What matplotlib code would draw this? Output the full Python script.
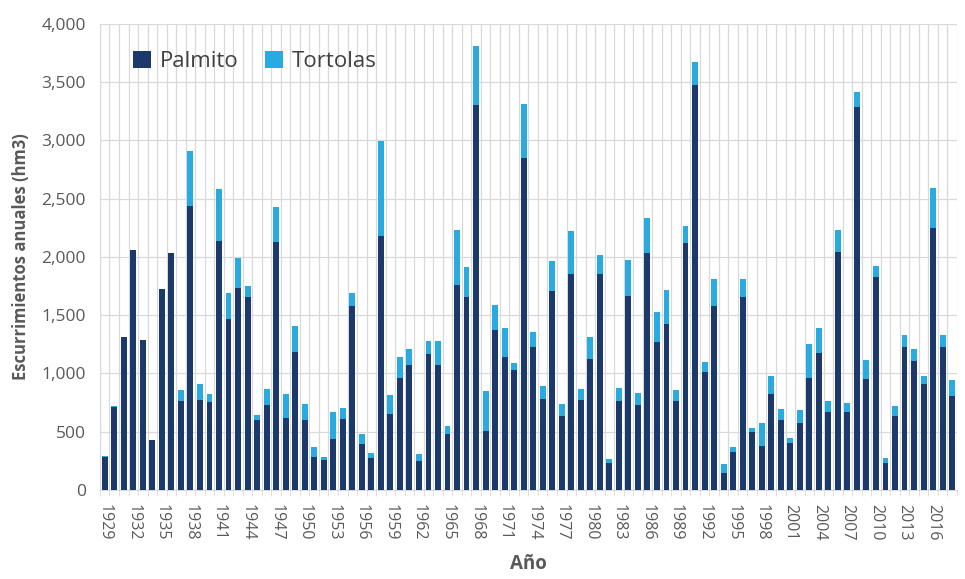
import numpy as np
import matplotlib
matplotlib.use("Agg")
import matplotlib.pyplot as plt
from matplotlib.ticker import FuncFormatter, FixedLocator

plt.rcParams['font.family'] = ['Open Sans', 'DejaVu Sans']

years = list(range(1929, 2019))

# annual runoff per station (hm3)
palmito = [
    285, 715, 1313, 2056, 1286, 426, 1721, 2032, 764, 2439,
    773, 755, 2137, 1464, 1736, 1654, 598, 728, 2131, 622,
    1186, 601, 287, 260, 438, 613, 1582, 398, 272, 2177,
    652, 957, 1075, 251, 1171, 1075, 480, 1760, 1657, 3306,
    507, 1374, 1141, 1029, 2850, 1229, 785, 1709, 631, 1857,
    773, 1126, 1857, 229, 767, 1663, 728, 2035, 1268, 1428,
    767, 2119, 3478, 1017, 1576, 145, 326, 1657, 498, 377,
    824, 598, 405, 577, 963, 1177, 673, 2044, 670, 3291,
    954, 1832, 232, 631, 1229, 1111, 909, 2252, 1229, 803,
]
total = [
    290, 720, 1313, 2056, 1286, 426, 1721, 2032, 854, 2913,
    906, 821, 2584, 1688, 1992, 1754, 640, 863, 2430, 821,
    1404, 734, 371, 287, 673, 703, 1691, 483, 314, 2992,
    818, 1141, 1208, 305, 1283, 1283, 552, 2234, 1911, 3807,
    848, 1585, 1389, 1087, 3315, 1358, 894, 1968, 740, 2222,
    863, 1310, 2014, 269, 875, 1977, 833, 2337, 1528, 1715,
    854, 2267, 3674, 1102, 1814, 220, 371, 1814, 534, 574,
    978, 694, 450, 685, 1256, 1389, 761, 2234, 743, 3417,
    1120, 1920, 275, 725, 1331, 1208, 981, 2593, 1331, 942,
]
tortolas = [t - p for t, p in zip(total, palmito)]

c_palmito = '#1B3A6B'
c_tortolas = '#29ABE2'
grid_c = '#D9D9D9'
text_c = '#595959'

fig = plt.figure(figsize=(9.65, 5.79), dpi=100)
ax = fig.add_axes([0.1036, 0.1537, 0.888, 0.805])

x = np.arange(len(years))
ax.bar(x, palmito, width=0.62, color=c_palmito, label='Palmito', zorder=3)
ax.bar(x, tortolas, width=0.62, bottom=palmito, color=c_tortolas, label='Tortolas', zorder=3)

ax.set_xlim(-0.5, len(years) - 0.5)
ax.set_ylim(0, 4000)
ax.set_yticks(np.arange(0, 4001, 500))
ax.yaxis.set_major_formatter(FuncFormatter(lambda v, p: f'{int(v):,}'))

lab_idx = x[::3]
ax.set_xticks(lab_idx)
ax.set_xticklabels([str(years[i]) for i in lab_idx], rotation=-90)
ax.xaxis.set_minor_locator(FixedLocator(np.arange(-0.5, len(years), 1.0)))
ax.tick_params(axis='x', which='major', length=0, pad=10, labelsize=11.5, labelcolor=text_c)
ax.tick_params(axis='x', which='minor', length=4, color=grid_c)
ax.tick_params(axis='y', length=0, pad=10, labelsize=12.5, labelcolor=text_c)

ax.grid(axis='x', which='minor', color=grid_c, linewidth=0.9, zorder=0)
ax.grid(axis='y', which='major', color=grid_c, linewidth=0.9, zorder=0)
ax.set_axisbelow(True)
for s in ['top', 'right']:
    ax.spines[s].set_visible(False)
for s in ['left', 'bottom']:
    ax.spines[s].set_color(grid_c)

ax.set_ylabel('Escurrimientos anuales (hm3)', fontsize=12, fontweight='bold', color=text_c, labelpad=8)
ax.set_xlabel('Año', fontsize=13.5, fontweight='bold', color=text_c, labelpad=10)

leg = ax.legend(loc='upper left', bbox_to_anchor=(0.015, 0.985), ncol=2, frameon=False,
                fontsize=16, handlelength=0.8, handleheight=0.8, handletextpad=0.4,
                columnspacing=1.2, labelcolor='#404040')

fig.savefig('out.png', dpi=100)
